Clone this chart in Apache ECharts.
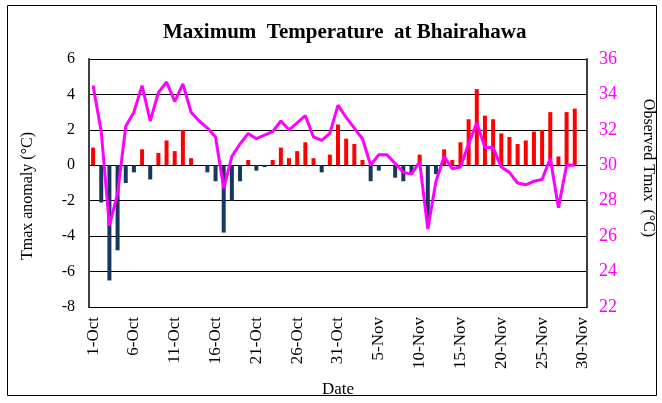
<!DOCTYPE html>
<html>
<head>
<meta charset="utf-8">
<script src="https://cdn.jsdelivr.net/npm/echarts@6/dist/echarts.min.js"></script>
<style>
html,body{margin:0;padding:0;background:#fff;}
#c{width:662px;height:403px;}
</style>
</head>
<body>
<div id="c"></div>
<script>
var dates = ["1-Oct","2-Oct","3-Oct","4-Oct","5-Oct","6-Oct","7-Oct","8-Oct","9-Oct","10-Oct",
"11-Oct","12-Oct","13-Oct","14-Oct","15-Oct","16-Oct","17-Oct","18-Oct","19-Oct","20-Oct",
"21-Oct","22-Oct","23-Oct","24-Oct","25-Oct","26-Oct","27-Oct","28-Oct","29-Oct","30-Oct","31-Oct",
"1-Nov","2-Nov","3-Nov","4-Nov","5-Nov","6-Nov","7-Nov","8-Nov","9-Nov","10-Nov",
"11-Nov","12-Nov","13-Nov","14-Nov","15-Nov","16-Nov","17-Nov","18-Nov","19-Nov","20-Nov",
"21-Nov","22-Nov","23-Nov","24-Nov","25-Nov","26-Nov","27-Nov","28-Nov","29-Nov","30-Nov"];

var anomaly = [1.0,-2.1,-6.5,-4.8,-1.0,-0.4,0.9,-0.8,0.7,1.4,
0.8,2.0,0.4,0,-0.4,-0.9,-3.8,-2.0,-0.9,0.3,
-0.3,-0.1,0.3,1.0,0.4,0.8,1.3,0.4,-0.4,0.6,2.3,
1.5,1.2,0.3,-0.9,-0.3,0,-0.7,-0.9,-0.5,0.6,
-3.0,-0.5,0.9,0.3,1.3,2.6,4.3,2.8,2.6,1.8,
1.6,1.2,1.4,1.9,2.0,3.0,0.5,3.0,3.2,null];

var tmax = [34.5,31.9,26.6,28.4,32.2,33.0,34.5,32.5,34.1,34.7,
33.6,34.6,33.0,32.5,32.1,31.6,28.7,30.5,31.2,31.8,
31.5,31.7,31.9,32.5,32.0,32.4,32.8,31.6,31.4,31.8,33.4,
32.7,32.1,31.5,30.0,30.6,30.6,30.1,29.6,29.5,30.2,
26.4,29.1,30.5,29.8,29.9,31.2,32.4,31.0,31.0,29.9,
29.6,29.0,28.9,29.1,29.2,30.4,27.6,30.0,30.0,null];

var leftTicks = {min:-8, max:6, step:2};
var rightTicks = {min:22, max:36, step:2};

var chart = echarts.init(document.getElementById('c'), null, {renderer:'canvas'});
var serif = '"Liberation Serif","Times New Roman",serif';
chart.setOption({
  animation:false,
  backgroundColor:'#fff',
  title:{
    text:'Maximum  Temperature  at Bhairahawa',
    left:158, top:17,
    textStyle:{fontFamily:serif, fontWeight:'bold', fontSize:21, color:'#000'}
  },
  graphic:[{
    type:'rect', shape:{x:7.5,y:5.5,width:649,height:390},
    style:{fill:'none', stroke:'#000', lineWidth:1}, silent:true, z:-1
  },{
    type:'text', x:28, y:196, rotation:Math.PI/2,
    style:{text:'Tmax anomaly (°C)', fontFamily:serif, fontSize:16, fill:'#000', align:'center', verticalAlign:'middle'},
    silent:true
  },{
    type:'text', x:648, y:168, rotation:-Math.PI/2,
    style:{text:'Observed Tmax  (°C)', fontFamily:serif, fontSize:16, fill:'#000', align:'center', verticalAlign:'middle'},
    silent:true
  }],
  grid:{left:89, right:75, top:59, bottom:96, containLabel:false},
  xAxis:{
    type:'category', data:dates, boundaryGap:true,
    name:'Date', nameLocation:'middle', nameGap:74,
    nameTextStyle:{fontFamily:serif, fontSize:17, color:'#000'},
    axisLine:{show:true, onZero:false, lineStyle:{color:'#000', width:1}},
    axisTick:{show:false},
    axisLabel:{interval:4, rotate:90, margin:10, fontFamily:serif, fontSize:17, color:'#000'},
    splitLine:{show:false}
  },
  yAxis:[{
    type:'value', min:leftTicks.min, max:leftTicks.max, interval:leftTicks.step,
    axisLine:{show:true, lineStyle:{color:'#404040', width:2}},
    axisTick:{show:false},
    axisLabel:{margin:14, fontFamily:serif, fontSize:16, color:'#000'},
    splitLine:{show:true, lineStyle:{color:'#000', width:1}}
  },{
    type:'value', position:'right', min:rightTicks.min, max:rightTicks.max, interval:rightTicks.step,
    axisLine:{show:true, lineStyle:{color:'#404040', width:2}},
    axisTick:{show:false},
    axisLabel:{margin:12, fontFamily:serif, fontSize:18, color:'#FF00FF'},
    splitLine:{show:false}
  }],
  series:[{
    type:'bar', data:anomaly, yAxisIndex:0, barWidth:4,
    itemStyle:{color:function(p){return p.value>=0?'#FF0000':'#17375E';}},
    z:2
  },{
    type:'line', data:tmax, yAxisIndex:1, symbol:'none', smooth:false,
    lineStyle:{color:'#FF00FF', width:3}, z:3
  }]
});
</script>
</body>
</html>
